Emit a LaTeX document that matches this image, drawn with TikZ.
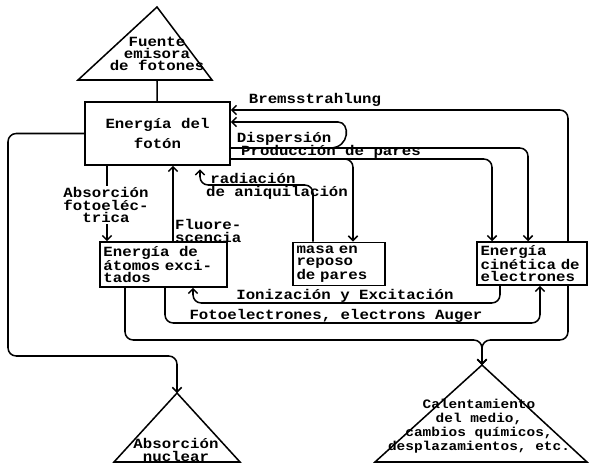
\documentclass[tikz,border=0pt]{standalone}
\usepackage{fontspec}
\setmainfont{Liberation Mono}[FakeStretch=1.12]
\usetikzlibrary{arrows.meta}

\tikzset{
  caja/.style={draw, line width=1.3pt, inner xsep=3pt, inner ysep=2pt, align=left,
    font=\bfseries\fontsize{12}{10.5}\selectfont},
  texto/.style={inner sep=0pt, align=center, font=\bfseries\fontsize{12}{10.5}\selectfont},
  flujo/.style={line width=1.3pt, rounded corners=7pt, -{Straight Barb[length=4pt,width=8pt]}},
  linea/.style={line width=1.3pt},
}

\begin{document}
\begin{tikzpicture}[x=0.03cm, y=-0.03cm]
  \useasboundingbox (0,0) rectangle (589,464);
  % the triangles
  \foreach \ax/\ay/\bl/\br/\by in {157/7/78/212/80, 177/393/114/240/462, 482/365/375/587/462}
    \draw[linea, line join=miter] (\ax,\ay) -- (\br,\by) -- (\bl,\by) -- cycle;
  \coordinate (fuentebase) at (157,80);
  \coordinate (nuclearapex) at (177,393);
  \coordinate (calorapex) at (482,365);
  \node[texto] (fuente) at (157,54) {Fuente\\emisora\\de fotones};
  \node[texto] (nuclear) at (176,450) {Absorción\\nuclear};
  \node[texto, font=\bfseries\fontsize{11}{12}\selectfont] (calor) at (479,426)
    {Calentamiento\\del medio,\\cambios químicos,\\desplazamientos, etc.};

  % the boxes
  \node[caja, align=center, minimum width=4.35cm, minimum height=1.89cm] (foton) at (157.5,133.5)
    {Energía del\\[5pt]fotón};
  \node[caja, text width=3.6cm, minimum height=1.35cm] (atomos) at (163.5,264.5)
    {Energía\ \ de\\átomos exci-\\tados};
  \node[caja, text width=2.55cm, minimum height=1.3cm] (masa) at (339,264)
    {masa en\\reposo\\de pares};
  \node[caja, text width=3.09cm, minimum height=1.29cm] (cinetica) at (532,263.5)
    {Energía\\cinética de\\electrones};

  \draw[linea] (fuentebase) -- (foton);
  % Bremsstrahlung
  \draw[flujo] (cinetica.north -| 568,0) |- (foton.east |- 0,110);
  \node[texto] (brems) at (315,100) {Bremsstrahlung};
  % dispersion
  \draw[flujo] (foton.east |- 0,148) -| (cinetica.north -| 528,0);
  \draw[flujo] (330,148) to[out=0, in=0, looseness=2] (330,122) -- (foton.east |- 0,122);
  \node[texto] (disp) at (284,139) {Dispersión};
  % pares
  \draw[flujo] (foton.east |- 0,159) -| (cinetica.north -| 492,0);
  \draw[flujo] (340,159) -| (masa.north -| 353,0);
  \node[texto] (prod) at (331,152) {Producción de pares};
  \draw[flujo, shorten >=3pt] (masa.north -| 313,0) |- (200,185) -- (foton.south -| 200,0);
  \node[texto] (rad) at (253,178) {radiación};
  \node[texto] (aniq) at (277,193) {de aniquilación};
  % foton -> atomos
  \draw[flujo] (foton.south -| 107,0) -- (atomos.north -| 107,0);
  \node[texto, fill=white, inner sep=1pt] (fotoel) at (106,205) {Absorción\\fotoeléc-\\trica};
  \draw[flujo] (atomos.north -| 173,0) -- (foton.south -| 173,0);
  \node[texto, anchor=west, align=left] (fluor) at (175,231) {Fluore-\\scencia};
  % nuclear
  \draw[flujo] (foton.west) -| (8,356) -| (nuclearapex);
  % electrones
  \draw[flujo] (cinetica.south -| 500,0) |- (193,303) -- (atomos.south -| 193,0);
  \node[texto] (ioniz) at (345,296) {Ionización y Excitación};
  \draw[flujo] (atomos.south -| 165,0) |- (540,323) -- (cinetica.south -| 540,0);
  \node[texto] (fotoe) at (336,316) {Fotoelectrones, electrons Auger};
  % calentamiento
  \draw[flujo] (atomos.south -| 125,0) |- (482,340) -- (calorapex);
  \draw[flujo] (cinetica.south -| 568,0) |- (482,340) -- (calorapex);
\end{tikzpicture}
\end{document}
